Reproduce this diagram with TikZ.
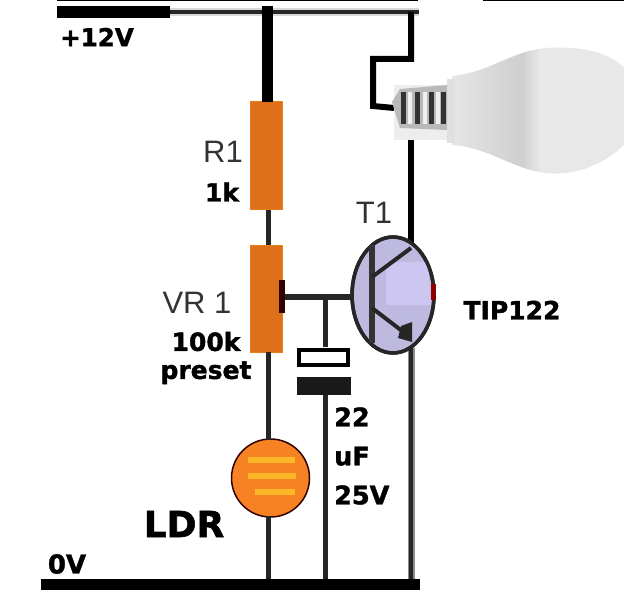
\documentclass[tikz,border=0pt]{standalone}
\usepackage{fontspec}
\setmainfont{DejaVu Sans}[BoldFeatures={FakeBold=1.5}]
\newfontfamily\plainfont{Liberation Sans}
\usetikzlibrary{shapes,positioning}
\definecolor{resorange}{RGB}{222,112,28}
\definecolor{ldrorange}{RGB}{247,130,35}
\definecolor{ldrstripe}{RGB}{252,184,40}
\definecolor{translilac}{RGB}{190,185,222}
\definecolor{translight}{RGB}{205,198,240}
\tikzstyle{wire}=[line width=5pt, black!85]
\tikzstyle{rail}=[line width=11pt, black]
\tikzstyle{resistor}=[rectangle, fill=resorange, draw=orange!60!brown, line width=1pt, minimum width=32pt, inner sep=0pt]
\tikzstyle{boldlabel}=[font=\bfseries\fontsize{25}{27}\selectfont, inner sep=0pt]
\tikzstyle{plainlabel}=[font=\plainfont\fontsize{31}{33}\selectfont, text=black!80, inner sep=0pt]
\begin{document}
\begin{tikzpicture}[x=1pt, y=-1pt]
      \useasboundingbox (0,0) rectangle (631,593);
      % Place nodes
      \node [resistor, minimum height=108pt] (r1) at (266.5,156) {};
      \node [resistor, minimum height=107pt] (vr1) at (266.5,299) {};
      \node [circle, fill=ldrorange, draw=black!80!red, line width=1.5pt, minimum size=78pt, inner sep=0pt] (ldr) at (270.5,478) {};
      \node [ellipse, minimum width=84pt, minimum height=116pt, inner sep=0pt] (t1) at (393,295) {};
      \coordinate (railtopl) at (57,12);
      \coordinate (railtopm) at (170,12);
      \coordinate (railtopr) at (419,12);
      \coordinate (railbotl) at (41,584);
      \coordinate (railbotr) at (420,584);
      \coordinate (lampin) at (394,108);
      \coordinate (lampout) at (411,132);
      \coordinate (collector) at (411,245);
      \coordinate (emitter) at (411,348);
      \coordinate (base) at (352,297);
      \coordinate (wiper) at (284,297);
      \coordinate (captop) at (325,347);
      \coordinate (capbot) at (325,395);
      % Draw edges
      \draw [line width=8pt, black!15] (railtopm) -- (railtopr);
      \draw [line width=3.5pt, black!85] (railtopm) -- (railtopr);
      \draw [line width=12pt, black] (railtopl) -- (railtopm);
      \draw [line width=2pt, black] (57,0) -- (418,0);
      \draw [line width=2pt, black] (483,0) -- (624,0);
      \draw [line width=11pt, black] (267,6) -- (267,102);
      \draw [wire] (268,210) -- (268,245);
      \draw [wire] (268,352) -- (268,440);
      \draw [wire] (268,516) -- (268,584);
      \draw [line width=6pt, black] (411,12) -- (411,59) -- (373,59) -- (373,106) -- (lampin);
      \draw [line width=6pt, black] (lampout) -- (collector);
      \draw [line width=7pt, black!45] (emitter) -- (411,584);
      \draw [line width=4pt, black!85] (emitter) -- (411,584);
      \draw [wire] (wiper) -- (base);
      \draw [wire] (325,297) -- (captop);
      \draw [wire] (capbot) -- (325,584);
      \draw [rail] (railbotl) -- (railbotr);
      % Capacitor
      \node [rectangle, draw=black, line width=4pt, fill=white, minimum width=49pt, minimum height=15pt, inner sep=0pt] (capa) at (323.5,357.5) {};
      \node [rectangle, fill=black!90, minimum width=54pt, minimum height=18pt, inner sep=0pt] (capb) at (324,386) {};
      \draw [line width=6pt, black!80!red] (282,280) -- (282,313);
      % Transistor
      \draw [line width=3.5pt, black!85, fill=translilac] (t1.center) ellipse [x radius=41pt, y radius=58pt];
      \fill [translight] (386,262) -- (428,262) -- (431,305) -- (386,305) -- cycle;
      \draw [line width=3.5pt, black!85] (t1.center) ellipse [x radius=41pt, y radius=58pt];
      \fill [red!55!black] (431,284) rectangle (436,300);
      \draw [line width=6pt, black!80] (372,245) -- (372,343);
      \draw [wire, line width=4pt] (372,277) -- (411,248);
      \draw [wire, line width=4pt] (372,308) -- (406,334);
      \fill [black!85] (412,322) -- (412,342) -- (398,338) -- (401,326) -- cycle;
      % LDR stripes
      \foreach \stripex/\stripey/\stripew in {248/460/47, 248/476/48, 255/492/40}
        \fill [ldrstripe] (\stripex,\stripey-3) rectangle ++(\stripew,6);
      % Lamp
      \begin{scope}
        \clip (452,76) .. controls (490,72) and (510,52) .. (545,48) .. controls (575,46) and (605,50) .. (624,67)
          -- (624,145) .. controls (600,168) and (570,176) .. (545,173) .. controls (510,168) and (490,148) .. (452,145) -- cycle;
        \shade [left color=gray!20, right color=gray!38] (452,40) rectangle (522,180);
        \shade [left color=gray!38, right color=gray!18] (522,40) rectangle (540,180);
        \fill [gray!18] (540,40) rectangle (624,180);
      \end{scope}
      \fill [gray!14] (394,85) rectangle (455,140);
      \fill [gray!24] (447,79) rectangle (455,143);
      \fill [gray!55] (392,102) -- (400,89) -- (447,85) -- (447,130) -- (400,128) -- cycle;
      \foreach \threadx in {401,415,429,441}
        \fill [black!80] (\threadx,92) rectangle ++(5,32);
      \foreach \threadx in {408,423,436}
        \fill [gray!12] (\threadx,92) rectangle ++(4,32);
      % Labels
      \node [boldlabel, font=\bfseries\fontsize{24.5}{26}\selectfont] (vcc) at (97,37) {+12V};
      \node [boldlabel, font=\bfseries\fontsize{26}{28}\selectfont] (gnd) at (67,564) {0V};
      \node [plainlabel] (r1name) at (223,152) {R1};
      \node [boldlabel] (r1val) at (222,192) {1k};
      \node [plainlabel] (vr1name) at (197,303) {VR 1};
      \node [boldlabel, align=center, font=\bfseries\fontsize{25}{28}\selectfont] (vr1val) at (206,358) {100k\\preset};
      \node [plainlabel] (t1name) at (374,213) {T1};
      \node [boldlabel] (tipname) at (512,310) {TIP122};
      \node [boldlabel, align=left, font=\bfseries\fontsize{25.5}{39}\selectfont, anchor=west] (capval) at (334,456) {22\\uF\\25V};
      \node [boldlabel, font=\bfseries\fontsize{36}{38}\selectfont] (ldrname) at (184,524) {LDR};
\end{tikzpicture}
\end{document}
